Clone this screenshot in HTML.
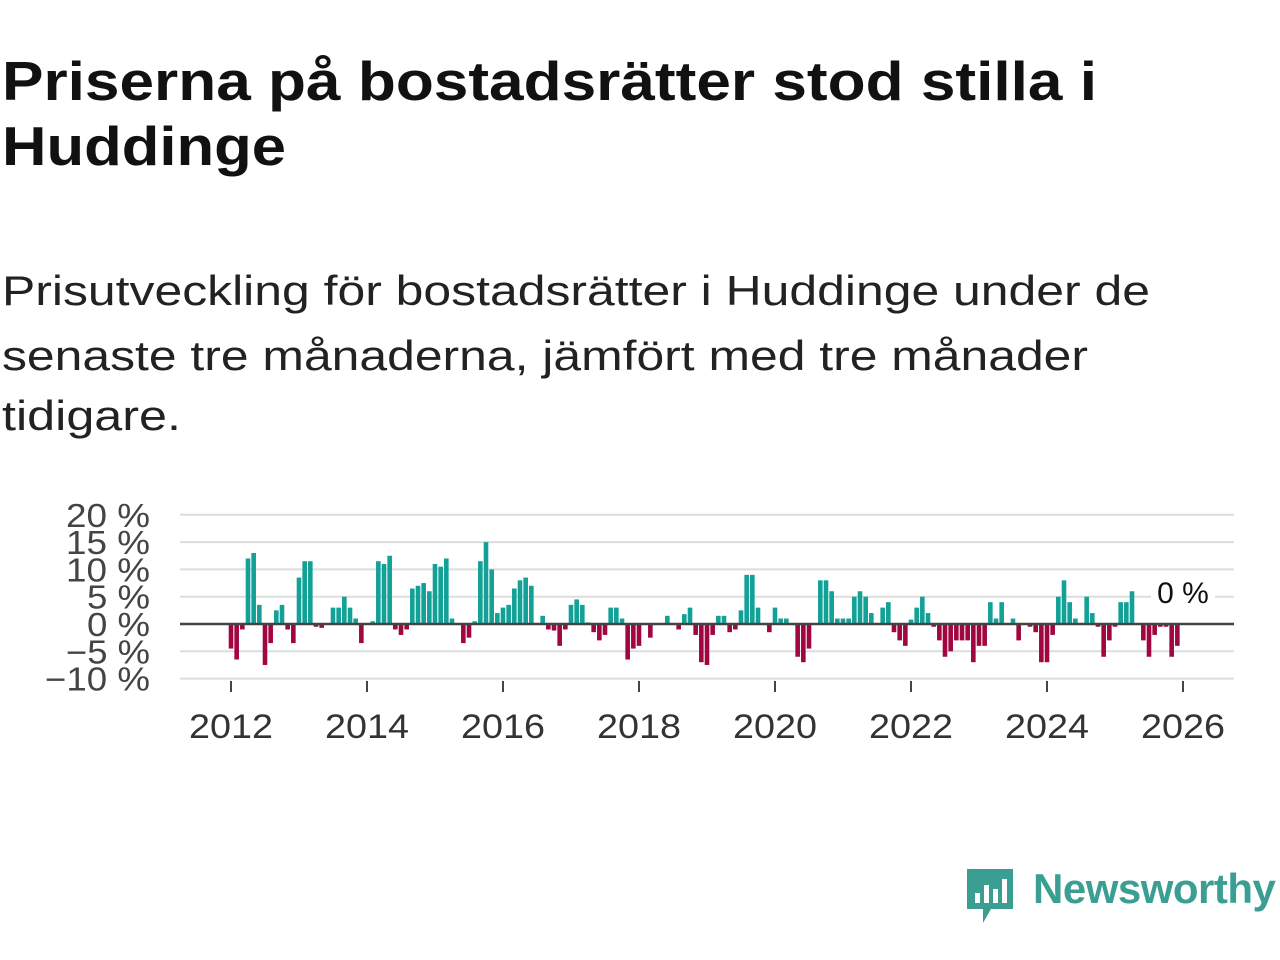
<!DOCTYPE html>
<html><head><meta charset="utf-8"><style>
body{margin:0;width:1280px;height:960px;background:#fff;font-family:"Liberation Sans",sans-serif;overflow:hidden;position:relative}
</style></head><body>
<svg width="1280" height="450" style="position:absolute;left:0;top:0" font-family="Liberation Sans">
<text x="2" y="100" font-size="55" font-weight="bold" fill="#111" textLength="1095" lengthAdjust="spacingAndGlyphs">Priserna på bostadsrätter stod stilla i</text>
<text x="2" y="165" font-size="55" font-weight="bold" fill="#111" textLength="284" lengthAdjust="spacingAndGlyphs">Huddinge</text>
<text x="2" y="305" font-size="42" fill="#222" textLength="1148" lengthAdjust="spacingAndGlyphs">Prisutveckling för bostadsrätter i Huddinge under de</text>
<text x="2" y="370" font-size="42" fill="#222" textLength="1086" lengthAdjust="spacingAndGlyphs">senaste tre månaderna, jämfört med tre månader</text>
<text x="2" y="430" font-size="42" fill="#222" textLength="179" lengthAdjust="spacingAndGlyphs">tidigare.</text>
</svg>
<svg id="chart" width="1280" height="800" style="position:absolute;left:0;top:0"></svg>
<div style="position:absolute;left:965px;top:865px;height:60px;width:315px">
<svg width="50" height="60" style="position:absolute;left:0;top:2px"><path d="M2 2h46v40H26l-8 14v-14H2z" fill="#3a9f92"/><rect x="10" y="26" width="5" height="10" fill="#fff"/><rect x="19" y="18" width="5" height="18" fill="#fff"/><rect x="28" y="22" width="5" height="14" fill="#fff"/><rect x="37" y="12" width="5" height="24" fill="#fff"/></svg>
<span style="position:absolute;left:68px;top:0;font-size:42px;color:#3a9f92;font-weight:bold;letter-spacing:-0.5px">Newsworthy</span></div>
<script>
const values=[-4.5,-6.5,-1,12,13,3.5,-7.5,-3.5,2.5,3.5,-1,-3.5,
8.5,11.5,11.5,-0.5,-0.7,0,3,3,5,3,1,-3.5,
0,0.5,11.5,11,12.5,-1,-2,-1,6.5,7,7.5,6,
11,10.5,12,1,0,-3.5,-2.5,0.5,11.5,15,10,2,
3,3.5,6.5,8,8.5,7,0,1.5,-1,-1.2,-4,-1,
3.5,4.5,3.5,0.3,-1.5,-3,-2,3,3,1,-6.5,-4.5,
-4,0,-2.5,0,0,1.5,0,-1,1.8,3,-2,-7,
-7.5,-2,1.5,1.5,-1.5,-1,2.5,9,9,3,0,-1.5,
3,1,1,0,-6,-7,-4.5,0,8,8,6,1,
1,1,5,6,5,2,0,3,4,-1.5,-3,-4,
0.8,3,5,2,-0.5,-3,-6,-5,-3,-3,-3,-7,
-4,-4,4,1,4,0,1,-3,0,-0.5,-1.5,-7,
-7,-2,5,8,4,1,0,5,2,-0.5,-6,-3,
-0.5,4,4,6,0,-3,-6,-2,-0.5,-0.5,-6,-4,0];
const yTicks=[20,15,10,5,0,-5,-10];
const yLabels=["20 %","15 %","10 %","5 %","0 %","−5 %","−10 %"];
const xYears=[2012,2014,2016,2018,2020,2022,2024,2026];
const startYear=2012;
const svg=document.getElementById('chart');const NS='http://www.w3.org/2000/svg';
const y=v=>624-v*5.46;const x=m=>231+m*(68/12);
function mk(t,a){const e=document.createElementNS(NS,t);for(const k in a)e.setAttribute(k,a[k]);svg.appendChild(e);return e;}
yTicks.forEach((t,i)=>{const g=mk('line',{x1:180,x2:1234,y1:y(t),y2:y(t),stroke:'#ddd','stroke-width':2});


const w=yLabels[i].length*21;
const l=mk('text',{x:150,y:y(t)+12,'text-anchor':'end','font-size':33,fill:'#444','font-family':'Liberation Sans',textLength:w,lengthAdjust:'spacingAndGlyphs'});l.textContent=yLabels[i];

});
values.forEach((v,i)=>{const top=Math.min(y(v),y(0)),h=Math.abs(y(v)-y(0));
const r=mk('rect',{x:x(i)-2.3,y:top,width:4.6,height:h,fill:v>=0?'#11a197':'#a0063f'});

});
const z=mk('line',{x1:180,x2:1234,y1:y(0),y2:y(0),stroke:'#444','stroke-width':2.5});


xYears.forEach(yr=>{const px=x((yr-startYear)*12);
const t=mk('line',{x1:px,x2:px,y1:681,y2:692,stroke:'#444','stroke-width':2});


const l=mk('text',{x:px,y:738,'text-anchor':'middle','font-size':34,fill:'#333','font-family':'Liberation Sans',textLength:84,lengthAdjust:'spacingAndGlyphs'});l.textContent=yr;

});
const last=values.length-1;
const lb=mk('rect',{x:x(last)-32,y:575,width:64,height:36,fill:'#fff'});


const lt=mk('text',{x:x(last),y:603,'text-anchor':'middle','font-size':30,fill:'#111','font-family':'Liberation Sans'});lt.textContent=values[last]+' %';


</script>
</body></html>
